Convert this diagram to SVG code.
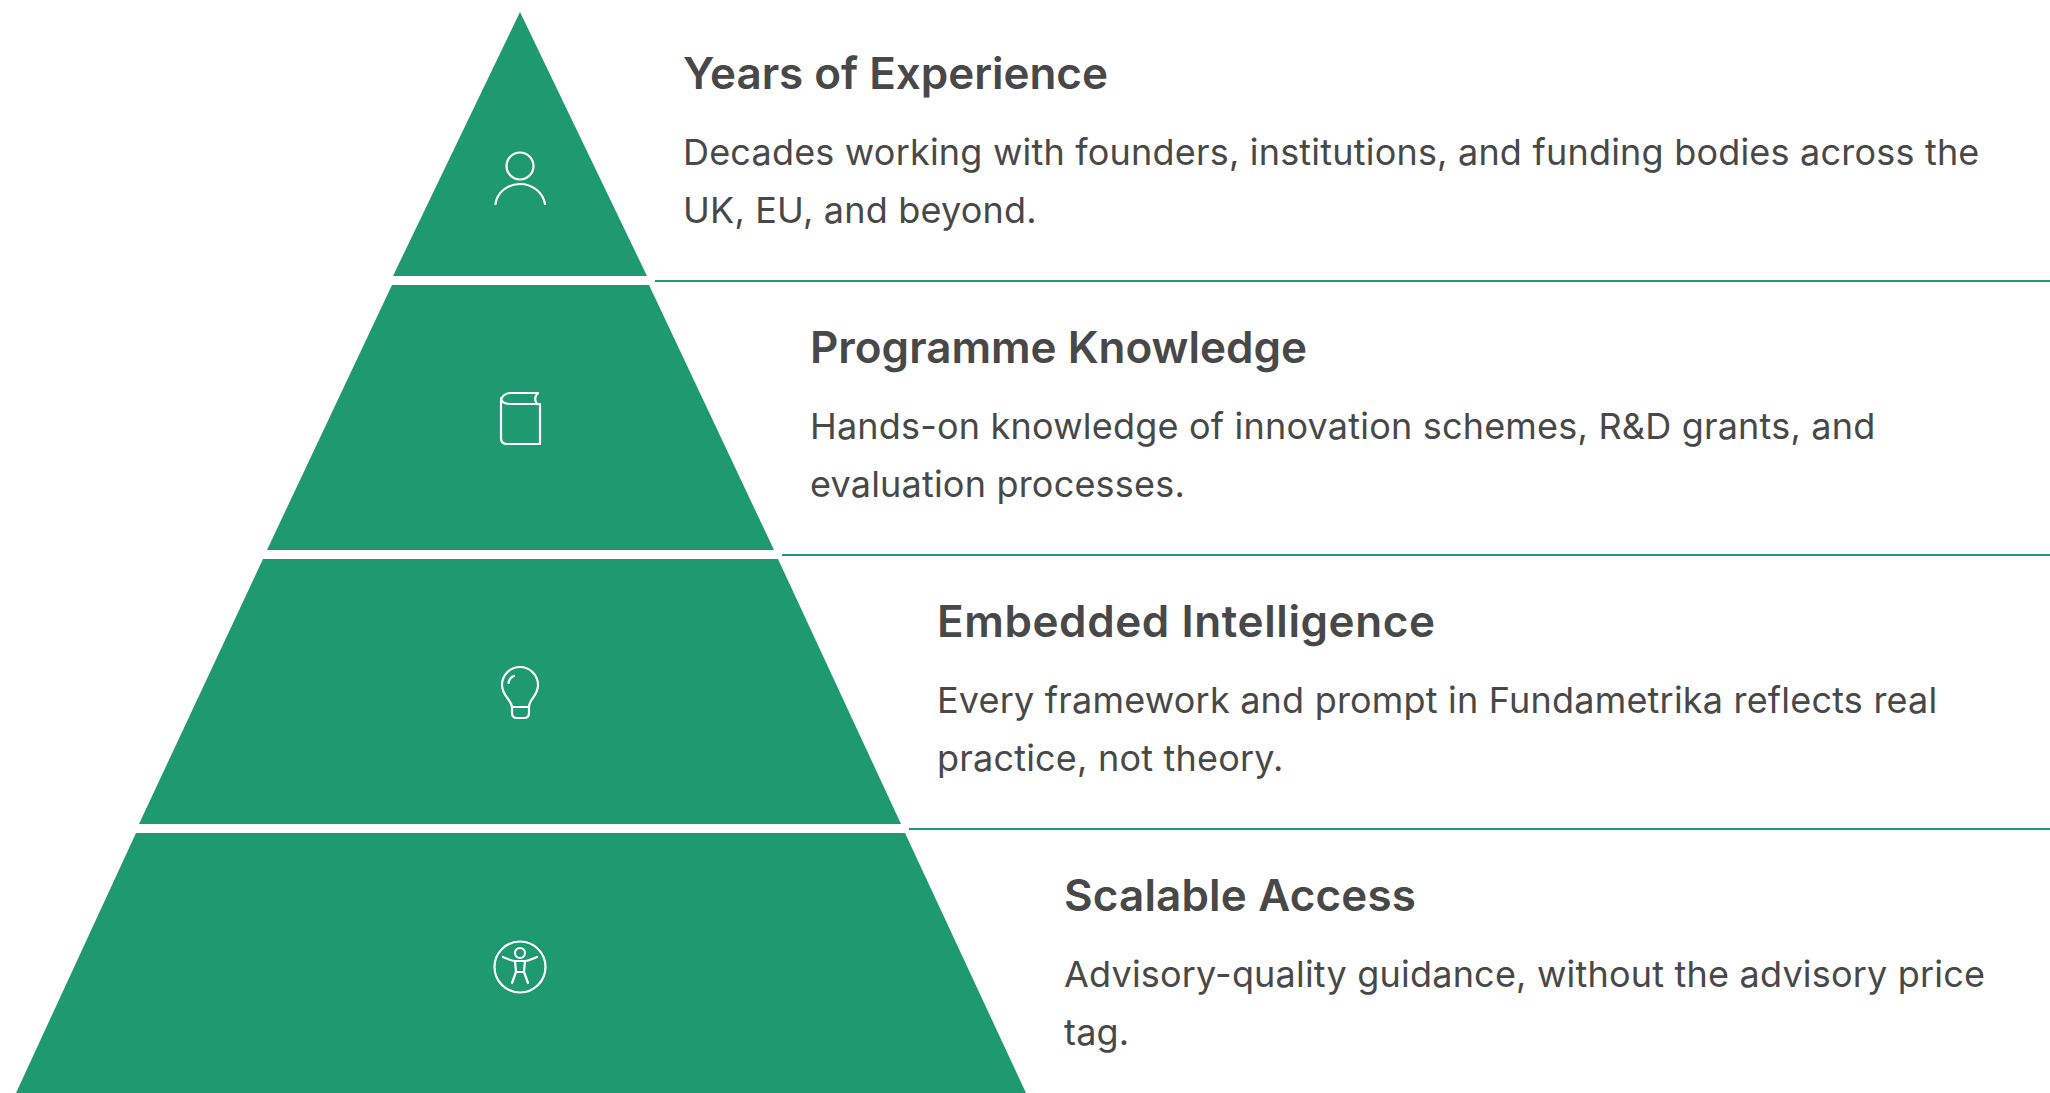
<svg xmlns="http://www.w3.org/2000/svg" width="2050" height="1093" viewBox="0 0 2050 1093">
<style>
.tier{fill:#1e9970}
.icon{fill:none;stroke:#fff;stroke-width:2.200;stroke-linecap:round;stroke-linejoin:round}
.t{font-family:"Inter","Liberation Sans",sans-serif;font-size:44px;font-weight:600;fill:#484848}
.b{font-family:"Inter","Liberation Sans",sans-serif;font-size:36px;font-weight:400;fill:#484848;letter-spacing:.2px}
.sep{stroke:#1e9970;stroke-width:2;fill:none}
</style>
<rect width="2050" height="1093" fill="#fff"/>
<g id="node-1">
<polygon class="tier" points="520,12 647,276 393,276"/>
<g class="icon"><circle cx="520" cy="166" r="13.5"/><path d="M495.500 204C497 192 508 184 520 184C532 184 543 192 545 204"/></g>
<text class="t" x="683" y="89" textLength="425">Years of Experience</text>
<text class="b" x="683" y="165">Decades working with founders, institutions, and funding bodies across the</text>
<text class="b" x="683" y="223">UK, EU, and beyond.</text>
</g>
<g id="node-2">
<polygon class="tier" points="392,285 649,285 774,550 267,550"/>
<g class="icon"><path d="M538 393H510C505 393 501 397 501 401V438C501 442 503 444 507 444H540V404H511C505 404 501 402 501 398"/><path d="M538 393C535 396 534 400 537 404"/></g>
<text class="t" x="810" y="363" textLength="497">Programme Knowledge</text>
<text class="b" x="810" y="439">Hands-on knowledge of innovation schemes, R&amp;D grants, and</text>
<text class="b" x="810" y="497">evaluation processes.</text>
</g>
<g id="node-3">
<polygon class="tier" points="263,559 778,559 901,824 139,824"/>
<g class="icon"><path d="M512 707C511 699 502 696 502 685A18 18 0 0 1 538 685C538 696 529 699 529 707V713C529 716 527 718 524 718H517C514 718 512 716 512 713ZM512 707H529"/><path d="M508.500 683C509 680 511 677 514 676"/></g>
<text class="t" x="937" y="637" textLength="498">Embedded Intelligence</text>
<text class="b" x="937" y="713">Every framework and prompt in Fundametrika reflects real</text>
<text class="b" x="937" y="771">practice, not theory.</text>
</g>
<g id="node-4">
<polygon class="tier" points="136,833 905,833 1026,1093 16,1093"/>
<g class="icon"><circle cx="520" cy="967" r="25.500"/><circle cx="520" cy="953" r="5"/><path d="M503 957C508 959 511 961 515 961H525C529 961 532 959 537 957"/><path d="M515 961L516 972L512 983M525 961L524 972L528 983M516 972H524"/></g>
<text class="t" x="1064" y="911" textLength="352">Scalable Access</text>
<text class="b" x="1064" y="987">Advisory-quality guidance, without the advisory price</text>
<text class="b" x="1064" y="1045">tag.</text>
</g>
<g id="connectors">
<path class="sep" d="M655 281H2050M782 555H2050M909 829H2050"/>
</g>
</svg>
